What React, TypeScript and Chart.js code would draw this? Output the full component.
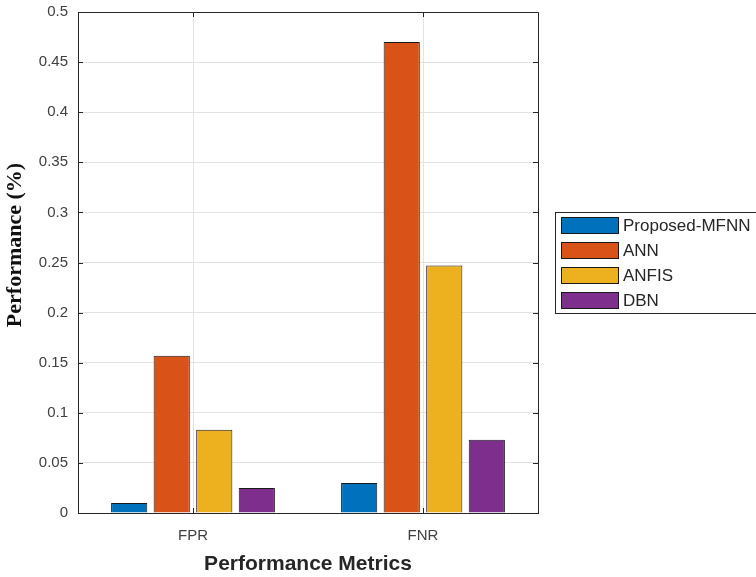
import React, { useEffect, useRef } from "react";
import { Chart, registerables } from "chart.js";

Chart.register(...registerables);

const categories = ["FPR", "FNR"];
const seriesNames = ["Proposed-MFNN", "ANN", "ANFIS", "DBN"];
const proposedMFNN = [0.01, 0.03];
const ann = [0.157, 0.47];
const anfis = [0.083, 0.247];
const dbn = [0.025, 0.073];
const yTicks = [0, 0.05, 0.1, 0.15, 0.2, 0.25, 0.3, 0.35, 0.4, 0.45, 0.5];
const colors = ["#0072BD", "#D95319", "#EDB120", "#7E2F8E"];
const yTitle = "Performance (%)";

const boxPlugin = {
  id: "matlabBox",
  afterDraw(chart: any) {
    const { ctx, chartArea } = chart;
    const { left, right, top, bottom } = chartArea;
    ctx.save();
    ctx.strokeStyle = "#262626";
    ctx.lineWidth = 1;
    ctx.beginPath();
    ctx.moveTo(left + 0.5, top + 0.5);
    ctx.lineTo(right + 0.5, top + 0.5);
    ctx.lineTo(right + 0.5, bottom + 0.5);
    ctx.stroke();
    // inward ticks
    const ys = chart.scales.y;
    ctx.beginPath();
    yTicks.forEach((v) => {
      const py = Math.round(ys.getPixelForValue(v)) + 0.5;
      ctx.moveTo(left, py);
      ctx.lineTo(left + 5, py);
      ctx.moveTo(right, py);
      ctx.lineTo(right - 5, py);
    });
    const xs = chart.scales.x;
    categories.forEach((_, i) => {
      const px = Math.round(xs.getPixelForTick(i)) + 0.5;
      ctx.moveTo(px, bottom);
      ctx.lineTo(px, bottom - 5);
      ctx.moveTo(px, top);
      ctx.lineTo(px, top + 5);
    });
    ctx.stroke();

    // y axis title
    ctx.save();
    ctx.translate(15, 245);
    ctx.rotate(-Math.PI / 2);
    ctx.font = "bold 22px 'Liberation Serif', 'Times New Roman', serif";
    ctx.fillStyle = "#111";
    ctx.textAlign = "center";
    ctx.textBaseline = "middle";
    ctx.fillText(yTitle, 0, 0);
    ctx.restore();

    // legend
    const lx = 555.5, ly = 212.5, lw = 210, lh = 101;
    ctx.fillStyle = "#ffffff";
    ctx.fillRect(lx, ly, lw, lh);
    ctx.strokeStyle = "#262626";
    ctx.strokeRect(lx, ly, lw, lh);
    ctx.font = "17px 'Liberation Sans', Arial, sans-serif";
    ctx.textBaseline = "middle";
    chart.data.datasets.forEach((ds: any, i: number) => {
      const sy = 217 + i * 25;
      ctx.fillStyle = ds.backgroundColor;
      ctx.fillRect(561, sy, 58, 17);
      ctx.strokeStyle = "#1a1a1a";
      ctx.strokeRect(561.5, sy + 0.5, 57, 16);
      ctx.fillStyle = "#262626";
      ctx.fillText(ds.label, 623, sy + 9);
    });
    ctx.restore();
  },
};

export default function App() {
  const ref = useRef<HTMLCanvasElement>(null);
  useEffect(() => {
    document.body.style.margin = "0";
    const datasets = [proposedMFNN, ann, anfis, dbn].map((d, i) => ({
      label: seriesNames[i],
      data: d,
      backgroundColor: colors[i],
      borderColor: "#1a1a1a",
      borderWidth: 1,
      barPercentage: 0.85,
      categoryPercentage: 0.74,
    }));
    const chart = new Chart(ref.current!, {
      type: "bar",
      data: { labels: categories, datasets },
      plugins: [boxPlugin],
      options: {
        animation: false,
        responsive: false,
        layout: { padding: { top: 12, right: 218, left: 0, bottom: 0 } },
        plugins: { legend: { display: false }, tooltip: { enabled: false } },
        scales: {
          x: {
            grid: { offset: false, color: "#e3e3e3", drawTicks: false },
            border: { color: "#262626", width: 1 },
            ticks: {
              color: "#404040",
              font: { family: "'Liberation Sans', Arial, sans-serif", size: 15 },
              padding: 14,
            },
            title: {
              display: true,
              text: "Performance Metrics",
              color: "#262626",
              font: { family: "'Liberation Sans', Arial, sans-serif", size: 21, weight: "bold" },
              padding: { top: 3, bottom: 0 },
            },
            afterFit: (s: any) => {
              s.height = 64;
              s.paddingLeft = 0;
              s.paddingRight = 0;
            },
          },
          y: {
            min: 0,
            max: 0.5,
            afterBuildTicks: (s: any) => {
              s.ticks = yTicks.map((v) => ({ value: v }));
            },
            grid: { color: "#e3e3e3", drawTicks: false },
            border: { color: "#262626", width: 1 },
            ticks: {
              color: "#404040",
              font: { family: "'Liberation Sans', Arial, sans-serif", size: 15 },
              padding: 10,
              callback: (v: any) => String(v),
            },
            afterFit: (s: any) => {
              s.width = 78;
              s.paddingTop = 0;
              s.paddingBottom = 0;
            },
          },
        },
      },
    });
    return () => chart.destroy();
  }, []);
  return <canvas ref={ref} width={756} height={577} style={{ display: "block" }} />;
}
